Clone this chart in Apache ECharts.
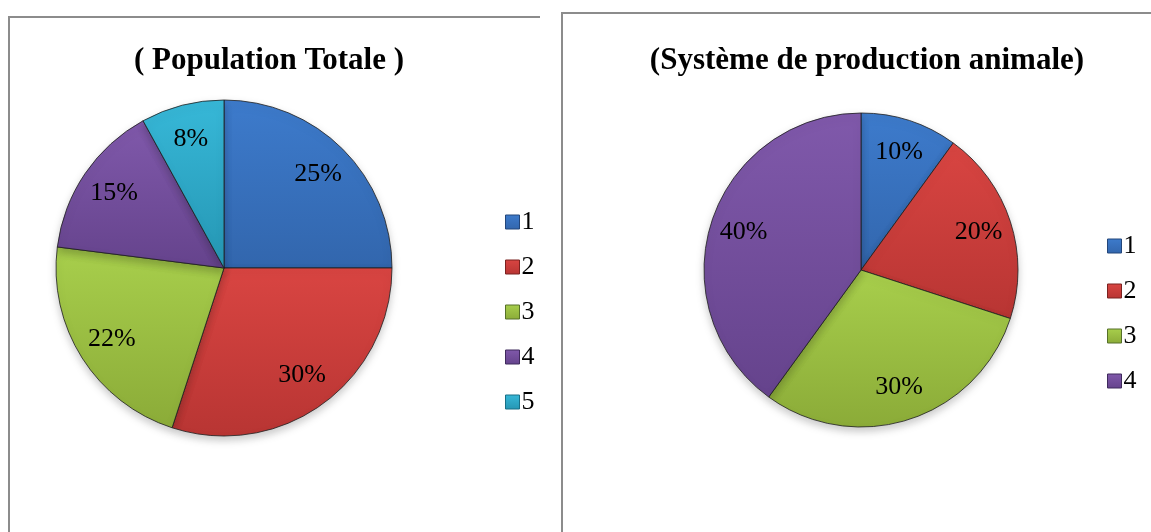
<!DOCTYPE html>
<html>
<head>
<meta charset="utf-8">
<script src="https://cdn.jsdelivr.net/npm/echarts@6/dist/echarts.min.js"></script>
<style>
  html, body { margin: 0; padding: 0; background: #fff; }
  #wrap { position: relative; width: 1151px; height: 532px; overflow: hidden; }
  .panel { position: absolute; border-left: 2px solid #8c8c8c; border-top: 2px solid #8c8c8c; }
  #chart { position: absolute; left: 0; top: 0; width: 1151px; height: 532px; }
</style>
</head>
<body>
<div id="wrap">
  <div class="panel" style="left:8px;top:16px;width:530px;height:530px;"></div>
  <div class="panel" style="left:561px;top:12px;width:600px;height:530px;"></div>
  <div id="chart"></div>
</div>
<script>
// données
const titleLeft = '( Population Totale )';
const titleRight = '(Système de production animale)';
const catsLeft = ['1', '2', '3', '4', '5'];
const valsLeft = [25, 30, 22, 15, 8];
const catsRight = ['1', '2', '3', '4'];
const valsRight = [10, 20, 30, 40];

// couleurs (style Office)
const colors = ['#3d7bcc', '#d94542', '#a8cf4c', '#8059ab', '#37b8d8'];
const darker = ['#3266ad', '#b83533', '#8bab38', '#65438c', '#2596b3'];
const edges = ['#23467a', '#7a2220', '#56702a', '#3f2a5c', '#196f86'];

const serif = "'Liberation Serif', 'Times New Roman', serif";

function sliceStyle(i) {
  return {
    color: new echarts.graphic.LinearGradient(0, 0, 0, 1, [
      { offset: 0, color: colors[i] },
      { offset: 1, color: darker[i] }
    ]),
    borderColor: 'rgba(30,30,30,0.8)',
    borderWidth: 1,
    shadowBlur: 8,
    shadowOffsetY: 4,
    shadowColor: 'rgba(0,0,0,0.22)'
  };
}

function pieData(cats, vals) {
  return cats.map((c, i) => ({ name: c, value: vals[i], itemStyle: sliceStyle(i) }));
}

function labelData(cats, vals) {
  return cats.map((c, i) => ({ name: c, value: vals[i] }));
}

function legendData(cats) {
  return cats.map((c, i) => ({
    name: c,
    itemStyle: {
      color: new echarts.graphic.LinearGradient(0, 0, 0, 1, [
        { offset: 0, color: colors[i] },
        { offset: 1, color: darker[i] }
      ]),
      borderColor: edges[i],
      borderWidth: 1
    }
  }));
}

const chart = echarts.init(document.getElementById('chart'));

const legendBase = {
  orient: 'vertical',
  icon: 'rect',
  itemWidth: 14,
  itemHeight: 14,
  itemGap: 19,
  selectedMode: false,
  textStyle: { fontFamily: serif, fontSize: 26, color: '#000', padding: [0, 0, 0, -3] }
};

// série transparente qui ne sert qu'à placer les étiquettes
const labelSeries = {
  type: 'pie',
  silent: true,
  legendHoverLink: false,
  itemStyle: { color: 'rgba(0,0,0,0)', borderWidth: 0 },
  label: {
    show: true,
    position: 'inside',
    formatter: '{c}%',
    fontFamily: serif,
    fontSize: 26,
    color: '#000'
  },
  labelLine: { show: false },
  emphasis: { disabled: true },
  z: 5
};

chart.setOption({
  animation: false,
  title: [
    {
      text: titleLeft,
      left: 264,
      top: 40,
      textAlign: 'center',
      textStyle: { fontFamily: serif, fontSize: 31, fontWeight: 'bold', color: '#000' }
    },
    {
      text: titleRight,
      left: 862,
      top: 40,
      textAlign: 'center',
      textStyle: { fontFamily: serif, fontSize: 31, fontWeight: 'bold', color: '#000' }
    }
  ],
  legend: [
    Object.assign({}, legendBase, { left: 500, top: 204, data: legendData(catsLeft) }),
    Object.assign({}, legendBase, { left: 1102, top: 228, data: legendData(catsRight) })
  ],
  series: [
    {
      type: 'pie',
      center: [224, 268],
      radius: 168,
      label: { show: false },
      labelLine: { show: false },
      emphasis: { disabled: true },
      data: pieData(catsLeft, valsLeft)
    },
    {
      type: 'pie',
      center: [861, 270],
      radius: 157,
      label: { show: false },
      labelLine: { show: false },
      emphasis: { disabled: true },
      data: pieData(catsRight, valsRight)
    },
    Object.assign({}, labelSeries, {
      center: [224, 268],
      radius: [92, 168],
      data: labelData(catsLeft, valsLeft)
    }),
    Object.assign({}, labelSeries, {
      center: [861, 270],
      radius: [84, 157],
      data: labelData(catsRight, valsRight)
    })
  ]
});
</script>
</body>
</html>
